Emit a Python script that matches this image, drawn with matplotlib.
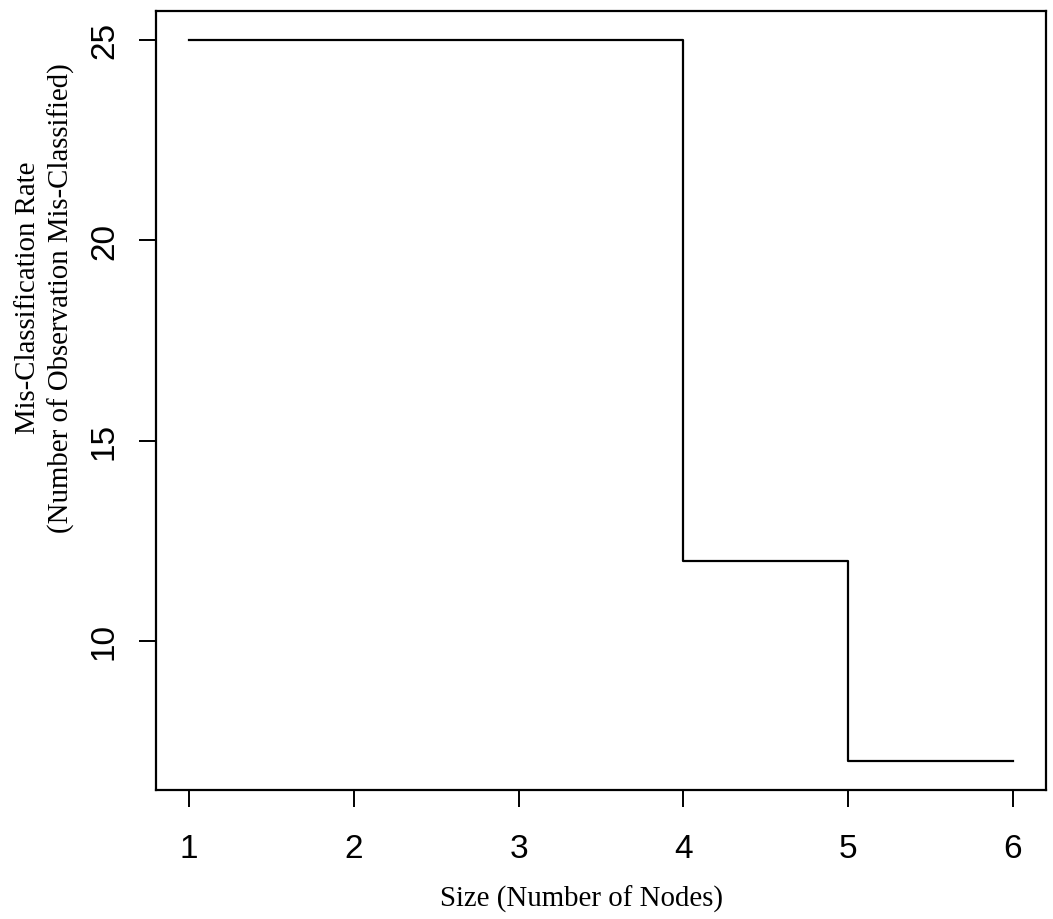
import matplotlib
matplotlib.use("Agg")
import matplotlib.pyplot as plt

sizes = [1, 4, 5, 6]
misclass = [25, 12, 7, 7]
x_ticks = [1, 2, 3, 4, 5, 6]
y_ticks = [10, 15, 20, 25]
xlabel = 'Size (Number of Nodes)'
ylabel_lines = ['Mis-Classification Rate', '(Number of Observation Mis-Classified)']

W, H = 1053, 920
fig = plt.figure(figsize=(W/100, H/100), dpi=100)
ax = fig.add_axes([156/W, 1 - 791/H, (1046-156)/W, (791-12)/H])

ax.step(sizes, misclass, where='post', color='black', lw=1.6)

ax.set_xlim(0.8, 6.2)
ax.set_ylim(6.28, 25.72)
ax.set_xticks(x_ticks)
ax.set_yticks(y_ticks)
ax.tick_params(axis='both', length=12, width=1.4, direction='out',
               labelsize=24, color='black')
ax.tick_params(axis='x', pad=19)
ax.tick_params(axis='y', pad=14)
for lab in ax.get_xticklabels():
    lab.set_fontfamily('Liberation Sans')
for lab in ax.get_yticklabels():
    lab.set_fontfamily('Liberation Sans')
    lab.set_rotation(90)
    lab.set_va('center')
for s in ax.spines.values():
    s.set_linewidth(1.6)

fig.text(581/W, 1 - 907/H, xlabel, fontfamily='Liberation Serif', fontsize=20.8,
         ha='center', va='baseline')
fig.text(28/W, 1 - 298/H, ylabel_lines[0], fontfamily='Liberation Serif', fontsize=20.8,
         ha='center', va='center', rotation=90)
fig.text(61/W, 1 - 298/H, ylabel_lines[1], fontfamily='Liberation Serif', fontsize=20.8,
         ha='center', va='center', rotation=90)

fig.savefig('out.png', dpi=100)
